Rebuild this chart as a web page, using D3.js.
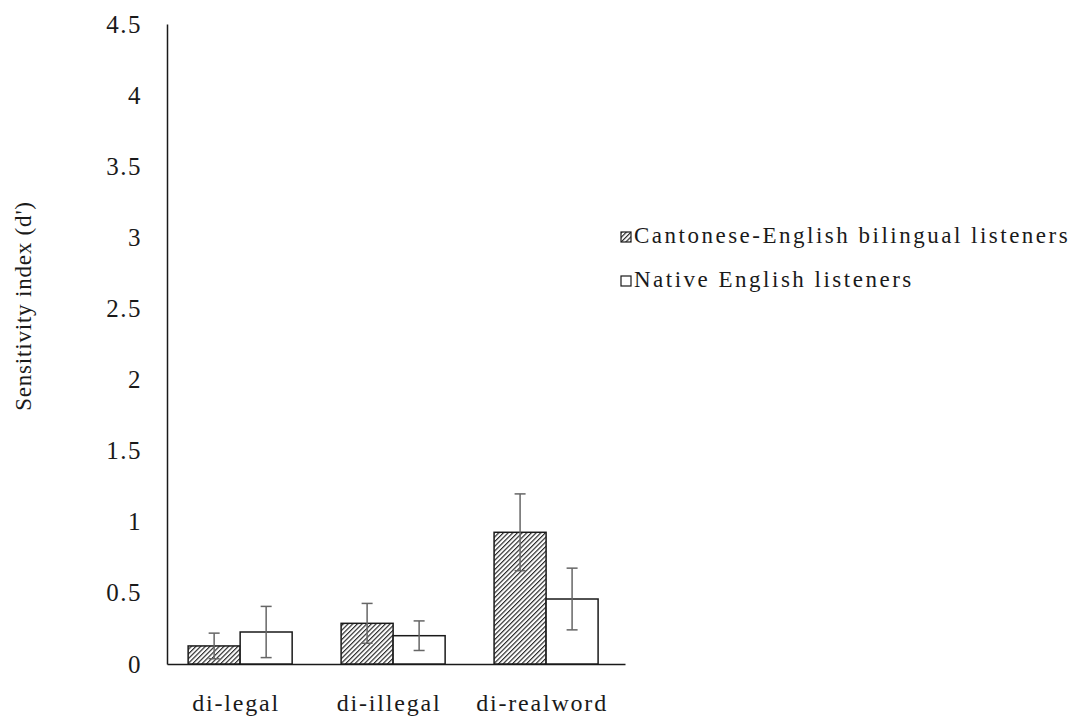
<!DOCTYPE html>
<html><head><meta charset="utf-8">
<script src="https://cdn.jsdelivr.net/npm/d3@7"></script>
<style>html,body{margin:0;padding:0;background:#fff;} svg text{font-family:"Liberation Serif","Times New Roman",serif !important;fill:#1a1a1a;}</style>
</head><body>
<svg id="c" width="1084" height="722" font-family="Liberation Serif"></svg>
<script>
const categories = ["di-legal", "di-illegal", "di-realword"];
const seriesNames = ["Cantonese-English bilingual listeners", "Native English listeners"];
const cantonese = [0.127, 0.286, 0.926];
const cantoneseErr = [0.09, 0.14, 0.27];
const native = [0.225, 0.199, 0.457];
const nativeErr = [0.18, 0.104, 0.217];
const yTicks = [0, 0.5, 1, 1.5, 2, 2.5, 3, 3.5, 4, 4.5];
const yLabel = "Sensitivity index (d')";

const svg = d3.select("#c");
const defs = svg.append("defs");
const pat = defs.append("pattern").attr("id","hatch").attr("patternUnits","userSpaceOnUse")
  .attr("width",3.3).attr("height",3.3).attr("patternTransform","rotate(45)");
pat.append("rect").attr("width",3.3).attr("height",3.3).attr("fill","#fff");
pat.append("line").attr("x1",0.6).attr("y1",0).attr("x2",0.6).attr("y2",3.3).attr("stroke","#1a1a1a").attr("stroke-width",1.1);

const x0 = 167, x1 = 625, yTop = 24, yBot = 664;
const y = d3.scaleLinear().domain([0,4.5]).range([yBot,yTop]);
const xb = d3.scaleBand().domain(categories).range([x0,x1]).paddingInner(0.32).paddingOuter(0.157).align(0.44);
const xs = d3.scaleBand().domain([0,1]).range([0, xb.bandwidth()]);

const data = categories.map((c,i)=>({c, vals:[{s:0,v:cantonese[i],e:cantoneseErr[i]},{s:1,v:native[i],e:nativeErr[i]}]}));

// axes
const yAxis = d3.axisLeft(y).tickValues(yTicks).tickSize(0).tickPadding(25).tickFormat(d=>String(d));
const gy = svg.append("g").attr("transform",`translate(${x0},0)`).call(yAxis);
gy.select(".domain").attr("stroke","#1a1a1a").attr("stroke-width",1.5);
gy.selectAll("text").attr("font-size",25).attr("letter-spacing",1.5);

const xAxis = d3.axisBottom(xb).tickSize(0).tickPadding(30);
const gx = svg.append("g").attr("transform",`translate(0,${yBot})`).call(xAxis);
gx.select(".domain").attr("stroke","#1a1a1a").attr("stroke-width",1.5);
gx.selectAll("text").attr("font-size",24).attr("letter-spacing",1.8).attr("dx",-4);

// bars
const groups = svg.append("g").selectAll("g").data(data).join("g").attr("transform",d=>`translate(${xb(d.c)},0)`);
groups.selectAll("rect").data(d=>d.vals).join("rect")
  .attr("x",d=>xs(d.s)).attr("width",xs.bandwidth())
  .attr("y",d=>y(d.v)).attr("height",d=>y(0)-y(d.v))
  .attr("fill",d=>d.s===0?"url(#hatch)":"#fff").attr("stroke","#1a1a1a").attr("stroke-width",1.5);
// error bars
const eb = groups.selectAll("g.eb").data(d=>d.vals).join("g").attr("class","eb");
eb.append("line").attr("x1",d=>xs(d.s)+xs.bandwidth()/2).attr("x2",d=>xs(d.s)+xs.bandwidth()/2)
  .attr("y1",d=>y(d.v+d.e)).attr("y2",d=>y(d.v-d.e)).attr("stroke","#666").attr("stroke-width",1.5);
[1,-1].forEach(k=>{
  eb.append("line").attr("x1",d=>xs(d.s)+xs.bandwidth()/2-5.5).attr("x2",d=>xs(d.s)+xs.bandwidth()/2+5.5)
    .attr("y1",d=>y(d.v+k*d.e)).attr("y2",d=>y(d.v+k*d.e)).attr("stroke","#666").attr("stroke-width",1.5);
});

// y label
svg.append("text").attr("transform","translate(31,306) rotate(-90)").attr("text-anchor","middle")
  .attr("font-size",23).attr("letter-spacing",0.8).text(yLabel);

// legend
const leg = svg.append("g").attr("transform","translate(621,232)");
const li = leg.selectAll("g").data(seriesNames).join("g").attr("transform",(d,i)=>`translate(0,${i*44})`);
li.append("rect").attr("width",10).attr("height",10).attr("fill",(d,i)=>i===0?"url(#hatch)":"#fff").attr("stroke","#1a1a1a").attr("stroke-width",1.2);
li.append("text").attr("x",13).attr("y",11).attr("font-size",23).attr("letter-spacing",2.5).text(d=>d);
</script>
</body></html>
